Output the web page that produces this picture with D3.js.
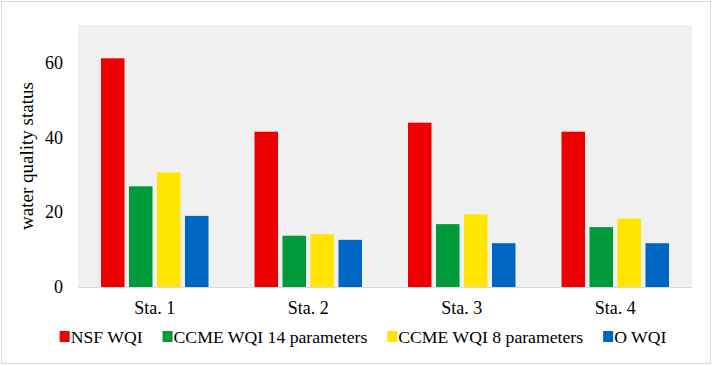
<!DOCTYPE html>
<html>
<head>
<meta charset="utf-8">
<script src="https://cdn.jsdelivr.net/npm/d3@7"></script>
<style>
  body { margin: 0; background: #fff; }
  svg text { font-family: "Liberation Serif", "DejaVu Serif", serif; fill: #000; }
</style>
</head>
<body>
<div id="chart"></div>
<script>
// chart data
const stations = ["Sta. 1", "Sta. 2", "Sta. 3", "Sta. 4"];
const seriesNames = ["NSF WQI", "CCME WQI 14 parameters", "CCME WQI 8 parameters", "O WQI"];
const nsfWqi = [61.1, 41.5, 43.9, 41.5];
const ccme14 = [26.9, 13.7, 16.8, 16.0];
const ccme8 = [30.6, 14.1, 19.4, 18.3];
const oWqi = [19.0, 12.6, 11.7, 11.7];
const yTicks = [0, 20, 40, 60];
const seriesColors = ["#ee0000", "#009a3a", "#ffe500", "#0066c4"];

const seriesValues = [nsfWqi, ccme14, ccme8, oWqi];
const serif = '"Liberation Serif", "DejaVu Serif", serif';

const width = 715;
const height = 366;
const margin = { top: 25, right: 23, bottom: 79, left: 78 };
const plotW = width - margin.left - margin.right;
const plotH = height - margin.top - margin.bottom;

const svg = d3.select('#chart')
    .append('svg')
    .attr('width', width)
    .attr('height', height)
    .attr('font-family', serif);

// outer frame
svg.append('rect')
    .attr('x', 1.5).attr('y', 1.5)
    .attr('width', 709).attr('height', 362)
    .attr('fill', '#fff')
    .attr('stroke', '#d9d9d9')
    .attr('stroke-width', 1);

const g = svg.append('g')
    .attr('transform', `translate(${margin.left},${margin.top})`);

// plot background
g.append('rect')
    .attr('width', plotW)
    .attr('height', plotH)
    .attr('fill', '#f0f0f0');

const xScale = d3.scaleBand()
    .domain(stations)
    .range([0, plotW]);

const xInner = d3.scaleBand()
    .domain(seriesNames)
    .range([23, xScale.bandwidth() - 23])
    .paddingInner(0.16);

const yScale = d3.scaleLinear()
    .domain([0, 70])
    .range([plotH, 0]);

// bars
seriesNames.forEach((name, si) => {
    g.selectAll('.bar-' + si)
        .data(stations)
        .enter()
        .append('rect')
        .attr('class', 'bar-' + si)
        .attr('x', (d) => xScale(d) + xInner(name))
        .attr('width', xInner.bandwidth())
        .attr('y', (d, i) => yScale(seriesValues[si][i]))
        .attr('height', (d, i) => plotH - yScale(seriesValues[si][i]))
        .attr('fill', seriesColors[si]);
});

// baseline
g.append('line')
    .attr('x1', 0).attr('x2', plotW)
    .attr('y1', plotH + 0.5).attr('y2', plotH + 0.5)
    .attr('stroke', '#d9d9d9');

// y axis
const yAxis = g.append('g')
    .call(d3.axisLeft(yScale).tickValues(yTicks).tickSize(0).tickPadding(15))
    .attr('font-family', serif)
    .attr('font-size', 18);
yAxis.select('.domain').remove();
yAxis.selectAll('text').attr('fill', '#000');

// x axis
const xAxis = g.append('g')
    .attr('transform', `translate(0,${plotH})`)
    .call(d3.axisBottom(xScale).tickSize(0).tickPadding(14))
    .attr('font-family', serif)
    .attr('font-size', 18);
xAxis.select('.domain').remove();
xAxis.selectAll('text').attr('fill', '#000');

// y axis title
svg.append('text')
    .attr('transform', `translate(33,${margin.top + plotH / 2}) rotate(-90)`)
    .attr('text-anchor', 'middle')
    .attr('font-size', 19)
    .text('water quality status');

// legend
const legend = svg.append('g');
let lx = 0;
seriesNames.forEach((name, i) => {
    const item = legend.append('g').attr('transform', `translate(${lx},0)`);
    item.append('rect')
        .attr('x', 0).attr('y', -6)
        .attr('width', 10).attr('height', 11)
        .attr('fill', seriesColors[i]);
    const t = item.append('text')
        .attr('x', 11)
        .attr('y', 6)
        .attr('font-size', 17.7)
        .text(name);
    lx += 11 + t.node().getComputedTextLength() + 20;
});
const legendW = lx - 20;
legend.attr('transform', `translate(${363 - legendW / 2},337)`);
</script>
</body>
</html>
